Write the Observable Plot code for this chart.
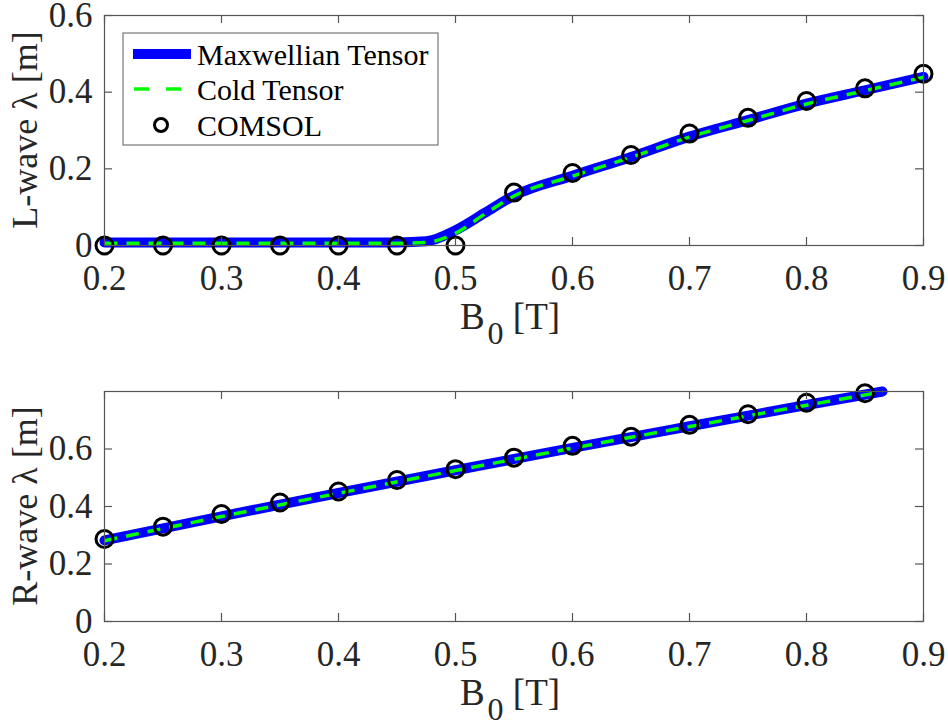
<!DOCTYPE html>
<html>
<head>
<meta charset="utf-8">
<script src="https://cdn.jsdelivr.net/npm/d3@7"></script>
<script src="https://cdn.jsdelivr.net/npm/@observablehq/plot@0.6"></script>
<style>
  html, body { margin: 0; padding: 0; background: #ffffff; }
  #chart { width: 948px; height: 727px; position: relative; background: #ffffff; }
  #chart svg { display: block; }
</style>
</head>
<body>
<div id="chart"></div>
<script>
// ---------- data ----------
const xTicks = [0.2, 0.3, 0.4, 0.5, 0.6, 0.7, 0.8, 0.9];
const lTicks = [0, 0.2, 0.4, 0.6];
const rTicks = [0, 0.2, 0.4, 0.6];

const seriesNames = ["Maxwellian Tensor", "Cold Tensor", "COMSOL"];

// L-wave (top panel)
const lComsolB = [0.2, 0.25, 0.3, 0.35, 0.4, 0.45, 0.5, 0.55, 0.6, 0.65, 0.7, 0.75, 0.8, 0.85, 0.9];
const lComsol  = [0, 0, 0, 0, 0, 0, 0, 0.138, 0.189, 0.236, 0.292, 0.333, 0.377, 0.410, 0.448];
const lLineB    = [0.2, 0.25, 0.3, 0.35, 0.4, 0.45, 0.475, 0.5, 0.525, 0.55, 0.6, 0.65, 0.7, 0.75, 0.8, 0.85, 0.9];
const lMaxwell  = [0.008, 0.008, 0.008, 0.008, 0.008, 0.008, 0.011, 0.040, 0.085, 0.130, 0.182, 0.231, 0.284, 0.327, 0.370, 0.405, 0.440];
const lCold     = [0.006, 0.006, 0.006, 0.006, 0.006, 0.006, 0.008, 0.032, 0.082, 0.129, 0.181, 0.230, 0.283, 0.326, 0.369, 0.404, 0.439];

// R-wave (bottom panel)
const rComsolB = [0.2, 0.25, 0.3, 0.35, 0.4, 0.45, 0.5, 0.55, 0.6, 0.65, 0.7, 0.75, 0.8, 0.85];
const rComsol  = [0.287, 0.330, 0.374, 0.414, 0.452, 0.492, 0.530, 0.570, 0.611, 0.643, 0.684, 0.721, 0.761, 0.794];
const rLineB   = [0.2, 0.3, 0.4, 0.5, 0.6, 0.7, 0.8, 0.865];
const rMaxwell = [0.282, 0.366, 0.447, 0.526, 0.604, 0.679, 0.753, 0.800];
const rCold    = [0.281, 0.365, 0.446, 0.525, 0.603, 0.678, 0.752, 0.799];

// ---------- helpers ----------
const zip = (xs, ys) => xs.map((x, i) => ({ x, y: ys[i] }));
const FONT = "'Liberation Serif', 'Times New Roman', Times, serif";
const AX = "#555555";
const TXT = "#262626";
const W = 948, ML = 104, MR = 25;
const TICK = 8;
const TICKFONT = 35;

function panel({ height, marginTop, marginBottom, yMax, yTicks, maxData, coldData, comsolData }) {
  const ph = height - marginTop - marginBottom;
  const pw = W - ML - MR;
  return Plot.plot({
    width: W,
    height,
    marginTop,
    marginBottom,
    marginLeft: ML,
    marginRight: MR,
    x: { domain: [0.2, 0.9] },
    y: { domain: [0, yMax] },
    style: { fontFamily: FONT, fontSize: TICKFONT + "px", color: TXT, background: "#ffffff", overflow: "visible" },
    marks: [
      Plot.line(maxData, { x: "x", y: "y", stroke: "#0000ff", strokeWidth: 10, curve: "monotone-x" }),
      Plot.line(coldData, { x: "x", y: "y", stroke: "#00ff00", strokeWidth: 3.5, strokeDasharray: "13,9", strokeLinecap: "butt", curve: "monotone-x" }),
      Plot.dot(comsolData, { x: "x", y: "y", r: 8.5, stroke: "#000000", strokeWidth: 3, fill: "none" }),
      Plot.frame({ stroke: AX, strokeWidth: 1.2 }),
      Plot.ruleX(xTicks, { insetTop: ph - TICK, stroke: AX, strokeWidth: 1.2 }),
      Plot.ruleX(xTicks, { insetBottom: ph - TICK, stroke: AX, strokeWidth: 1.2 }),
      Plot.ruleY(yTicks, { insetRight: pw - TICK, stroke: AX, strokeWidth: 1.2 }),
      Plot.ruleY(yTicks, { insetLeft: pw - TICK, stroke: AX, strokeWidth: 1.2 }),
      Plot.axisX(xTicks, { tickSize: 0, tickPadding: 20, tickFormat: d => d.toFixed(1), label: null, fontSize: TICKFONT }),
      Plot.axisY(yTicks, { tickSize: 0, tickPadding: 12, tickFormat: d => d === 0 ? "0" : d.toFixed(1), label: null, fontSize: TICKFONT })
    ]
  });
}

function addLabels(svg, plotTop, plotBottom, yText) {
  const s = d3.select(svg);
  const xl = s.append("text")
    .attr("x", 510).attr("y", plotBottom + 84)
    .attr("text-anchor", "middle")
    .attr("font-family", FONT).attr("font-size", 37).attr("fill", TXT);
  xl.append("tspan").text("B");
  xl.append("tspan").attr("dx", 3).attr("dy", 15).attr("font-size", 32).text("0");
  xl.append("tspan").attr("dy", -15).text(" [T]");
  s.append("text")
    .attr("transform", `translate(37,${(plotTop + plotBottom) / 2}) rotate(-90)`)
    .attr("text-anchor", "middle")
    .attr("font-family", FONT).attr("font-size", 36).attr("fill", TXT)
    .text(yText);
}

const chart = document.getElementById("chart");

// ---------- top panel ----------
const H1 = 350, MT1 = 15, MB1 = 105;
const topSvg = panel({
  height: H1, marginTop: MT1, marginBottom: MB1, yMax: 0.6, yTicks: lTicks,
  maxData: zip(lLineB, lMaxwell), coldData: zip(lLineB, lCold), comsolData: zip(lComsolB, lComsol)
});
chart.appendChild(topSvg);
addLabels(topSvg, MT1, H1 - MB1, "L-wave λ [m]");

{
  const s = d3.select(topSvg);
  const g = s.append("g").attr("font-family", FONT).attr("font-size", 30).attr("fill", "#000")
    .attr("text-anchor", "start");
  g.append("rect").attr("x", 123).attr("y", 33).attr("width", 315).attr("height", 112)
    .attr("fill", "#ffffff").attr("stroke", "#777777").attr("stroke-width", 1.2);
  const rows = [54, 89, 125];
  g.append("line").attr("x1", 133).attr("x2", 191).attr("y1", rows[0]).attr("y2", rows[0])
    .attr("stroke", "#0000ff").attr("stroke-width", 10);
  g.append("line").attr("x1", 134).attr("x2", 181).attr("y1", rows[1]).attr("y2", rows[1])
    .attr("stroke", "#00ff00").attr("stroke-width", 3.5).attr("stroke-dasharray", "15,17");
  g.append("circle").attr("cx", 161).attr("cy", rows[2]).attr("r", 6.5)
    .attr("fill", "none").attr("stroke", "#000").attr("stroke-width", 3);
  seriesNames.forEach((name, i) => {
    g.append("text").attr("x", 197).attr("y", rows[i] + 11).attr("text-anchor", "start").text(name);
  });
}

// ---------- bottom panel ----------
const H2 = 377, MT2 = 41, MB2 = 106;
const bottomSvg = panel({
  height: H2, marginTop: MT2, marginBottom: MB2, yMax: 0.8, yTicks: rTicks,
  maxData: zip(rLineB, rMaxwell), coldData: zip(rLineB, rCold), comsolData: zip(rComsolB, rComsol)
});
chart.appendChild(bottomSvg);
addLabels(bottomSvg, MT2, H2 - MB2, "R-wave λ [m]");
</script>
</body>
</html>
